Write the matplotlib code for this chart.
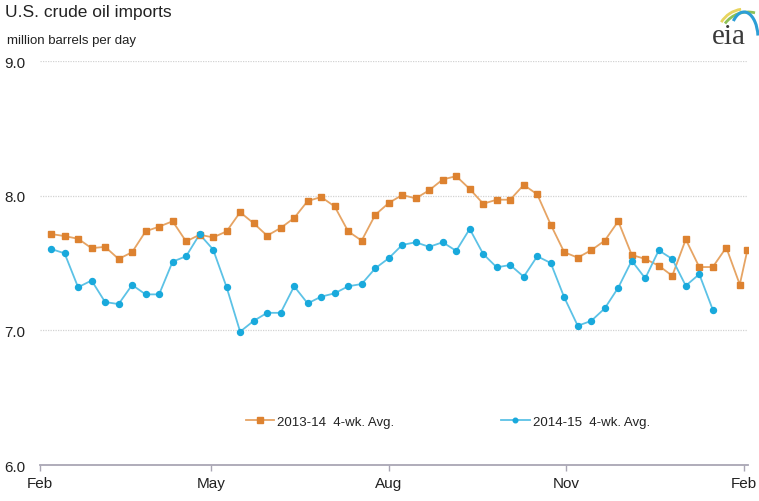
import matplotlib
matplotlib.use("Agg")
import matplotlib.pyplot as plt
from matplotlib.patches import Arc
import pandas as pd

plt.rcParams['font.family'] = ['Liberation Sans', 'DejaVu Sans']

# ---- data ----
title = "U.S. crude oil imports"
units = "million barrels per day"
series_names = ["2013-14  4-wk. Avg.", "2014-15  4-wk. Avg."]

# weekly dates on the Feb 2014 - Feb 2015 axis
dates_1314 = list(pd.date_range("2014-02-07", periods=52, freq="7D")) + [pd.Timestamp("2015-02-03")]
values_1314 = [7.715, 7.70, 7.68, 7.61, 7.62, 7.53, 7.58, 7.735, 7.77, 7.81,
               7.66, 7.71, 7.69, 7.735, 7.877, 7.795, 7.703, 7.76, 7.834, 7.96,
               7.99, 7.92, 7.735, 7.666, 7.857, 7.945, 8.005, 7.98, 8.04, 8.12,
               8.145, 8.05, 7.94, 7.97, 7.97, 8.08, 8.01, 7.785, 7.58, 7.54,
               7.595, 7.666, 7.81, 7.56, 7.53, 7.48, 7.405, 7.675, 7.47, 7.47,
               7.615, 7.34, 7.60]

dates_1415 = list(pd.date_range("2014-02-07", periods=50, freq="7D"))
values_1415 = [7.604, 7.572, 7.32, 7.37, 7.21, 7.195, 7.337, 7.267, 7.267, 7.51,
               7.55, 7.713, 7.60, 7.32, 6.99, 7.07, 7.13, 7.13, 7.327, 7.20,
               7.25, 7.275, 7.327, 7.344, 7.46, 7.535, 7.634, 7.654, 7.62, 7.654,
               7.59, 7.753, 7.567, 7.468, 7.485, 7.398, 7.55, 7.50, 7.245, 7.034,
               7.07, 7.163, 7.317, 7.517, 7.386, 7.594, 7.53, 7.331, 7.417, 7.153]

month_ticks = ["2014-02-01", "2014-05-01", "2014-08-01", "2014-11-01", "2015-02-01"]
month_labels = ["Feb", "May", "Aug", "Nov", "Feb"]
y_ticks = [6.0, 7.0, 8.0, 9.0]

# ---- style ----
orange = "#DD8230"
orange_line = "#E6A464"
blue = "#19A9DC"
blue_line = "#5CC2E6"
axis_gray = "#A9A6B4"
text_col = "#222222"

W, H = 759, 502
fig = plt.figure(figsize=(W / 100, H / 100), dpi=100)
ax = fig.add_axes([39.5 / W, 1 - 466 / H, (748.3 - 39.5) / W, (466 - 62) / H])

ax.plot(dates_1314, values_1314, color=orange_line, lw=1.3, zorder=3)
ax.plot(dates_1314, values_1314, ls="none", marker="s", ms=4.8, color=orange, zorder=4)
ax.plot(dates_1415, values_1415, color=blue_line, lw=1.3, zorder=3)
ax.plot(dates_1415, values_1415, ls="none", marker="o", ms=4.3, color=blue, zorder=4)

# legend proxies
h1, = ax.plot([], [], color=orange_line, lw=1.3, marker="s", ms=3.8, mfc=orange, mec=orange)
h2, = ax.plot([], [], color=blue_line, lw=1.3, marker="o", ms=3.3, mfc=blue, mec=blue)
leg = ax.legend([h1, h2], series_names, loc="center", bbox_to_anchor=(0.576, 0.107),
                ncol=2, frameon=False, fontsize=9.5, handlelength=2.15,
                handletextpad=0.25, columnspacing=8.1)
for t in leg.get_texts():
    t.set_color(text_col)

ax.set_ylim(6.0, 9.0)
ax.set_xlim(pd.Timestamp("2014-02-01"), pd.Timestamp("2015-02-03 10:00"))
ax.set_yticks(y_ticks)
ax.set_yticklabels([f"{v:.1f}" for v in y_ticks], fontsize=11, color=text_col)
ax.set_xticks([pd.Timestamp(d) for d in month_ticks])
ax.set_xticklabels(month_labels, fontsize=11, color=text_col)

for v in y_ticks[1:]:
    ax.axhline(v, color="#D2D2D2", lw=0.9, ls=(0, (1, 1)), zorder=1)

for s in ["top", "right", "left"]:
    ax.spines[s].set_visible(False)
ax.spines["bottom"].set_color(axis_gray)
ax.spines["bottom"].set_linewidth(1.3)
ax.tick_params(axis="y", length=0, pad=10)
ax.tick_params(axis="x", length=4, width=1, color=axis_gray, pad=4)

fig.text(5 / W, 1 - 13 / H, title, fontsize=12.5, color=text_col, va="center", ha="left")
fig.text(7 / W, 1 - 41 / H, units, fontsize=9.5, color=text_col, va="center", ha="left")

# eia logo (pixel coordinates relative to its box, y downward)
lax = fig.add_axes([700 / W, 1 - 50 / H, 59 / W, 50 / H])
lax.set_xlim(0, 59)
lax.set_ylim(50, 0)
lax.axis("off")
lax.text(29, 44, "eia", fontsize=21, family=["Liberation Serif", "DejaVu Serif"],
         color="#3a3a3a", ha="center", va="baseline")
arcs = [((45, 38), 56, 56, 212, 262, "#E8D45E", 2.0),
        ((48, 40), 56, 54, 214, 285, "#8DC157", 2.0),
        ((44, 39), 28, 52, 238, 350, "#2C9ED6", 2.2)]
for (cxy, w, h, t1, t2, c, lw) in arcs:
    lax.add_patch(Arc(cxy, w, h, theta1=t1, theta2=t2, color=c, lw=lw))

fig.savefig("out.png", dpi=100)
